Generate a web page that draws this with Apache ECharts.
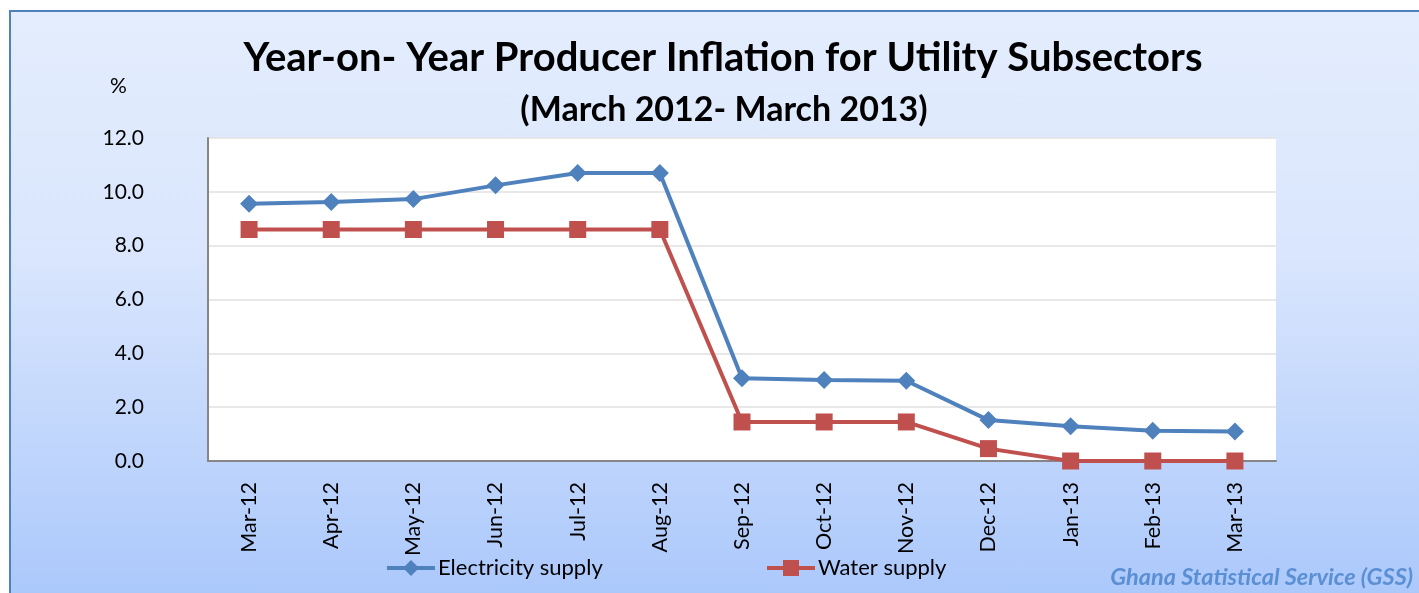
<!DOCTYPE html>
<html><head><meta charset="utf-8">
<script src="https://cdn.jsdelivr.net/npm/echarts@6/dist/echarts.min.js"></script>
<style>
html,body{margin:0;padding:0;width:1419px;height:593px;overflow:hidden;background:#fff;}
#frame{position:absolute;left:9px;top:10px;width:1420px;height:600px;border-left:2px solid #4f81bd;border-top:2px solid #4f81bd;background:linear-gradient(#e3edfd,#dae6fd 40%,#a9c7fb);}
#main{position:absolute;left:0;top:0;width:1419px;height:593px;}
</style></head>
<body><div id="frame"></div><div id="main"></div>
<script>
const categories = ['Mar-12','Apr-12','May-12','Jun-12','Jul-12','Aug-12','Sep-12','Oct-12','Nov-12','Dec-12','Jan-13','Feb-13','Mar-13'];
const electricity = [9.56,9.62,9.73,10.24,10.70,10.70,3.07,3.01,2.98,1.52,1.29,1.12,1.10];
const water = [8.6,8.6,8.6,8.6,8.6,8.6,1.45,1.45,1.45,0.46,0,0,0];
const seriesNames = ['Electricity supply','Water supply'];
const titleText = 'Year-on- Year Producer Inflation for Utility Subsectors';
const subtitleText = '(March 2012- March 2013)';
const FONT = 'Lato';
const chart = echarts.init(document.getElementById('main'));
chart.setOption({
  backgroundColor: 'transparent',
  animation: false,
  textStyle: {fontFamily: FONT},
  title: [
    {text: titleText, left: 718, top: 33, textAlign: 'center', textStyle: {fontFamily: FONT, fontSize: 40, fontWeight: 'bold', color: '#000'}},
    {text: subtitleText, left: 719, top: 88, textAlign: 'center', textStyle: {fontFamily: FONT, fontSize: 34, fontWeight: 'bold', color: '#000'}}
  ],
  graphic: [
    {type: 'text', left: 110, top: 76, style: {text: '%', fontFamily: FONT, fontSize: 21, fill: '#000'}},
    {type: 'text', right: 6, top: 566, style: {text: 'Ghana Statistical Service (GSS)', fontFamily: FONT, fontSize: 23.5, fontStyle: 'italic', fontWeight: 'bold', fill: '#5b8fd4'}}
  ],
  grid: {left: 208, top: 138, right: 143, bottom: 132, show: true, backgroundColor: '#fff', borderWidth: 0},
  legend: [
    {data: [seriesNames[0]], left: 380, top: 552, itemWidth: 48, itemHeight: 20, itemGap: 6, lineStyle: {width: 4, color: '#4f81bd'}, textStyle: {fontFamily: FONT, fontSize: 22, color: '#000', padding: [0,0,0,-2]}},
    {data: [seriesNames[1]], left: 760, top: 552, itemWidth: 48, itemHeight: 20, itemGap: 6, lineStyle: {width: 4, color: '#c0504d'}, textStyle: {fontFamily: FONT, fontSize: 22, color: '#000', padding: [0,0,0,-2]}}
  ],
  xAxis: {
    type: 'category', data: categories, boundaryGap: true,
    axisLine: {lineStyle: {color: '#868686', width: 2}},
    axisTick: {show: false},
    axisLabel: {rotate: 90, margin: 21, fontFamily: FONT, fontSize: 21.5, color: '#000', interval: 0}
  },
  yAxis: {
    type: 'value', min: 0, max: 12, interval: 2,
    axisLine: {show: true, lineStyle: {color: '#868686', width: 2}},
    axisTick: {show: false},
    splitLine: {lineStyle: {color: '#e0e0e0', width: 1.5}},
    axisLabel: {margin: 64, fontFamily: FONT, fontSize: 21, color: '#000', formatter: v => v.toFixed(1)}
  },
  series: [
    {name: seriesNames[0], type: 'line', data: electricity, symbol: 'diamond', symbolSize: 18,
     lineStyle: {color: '#4f81bd', width: 4}, itemStyle: {color: '#4f81bd'}, z: 3},
    {name: seriesNames[1], type: 'line', data: water, symbol: 'rect', symbolSize: 17,
     lineStyle: {color: '#c0504d', width: 4}, itemStyle: {color: '#c0504d'}, z: 2}
  ]
});
</script></body></html>
